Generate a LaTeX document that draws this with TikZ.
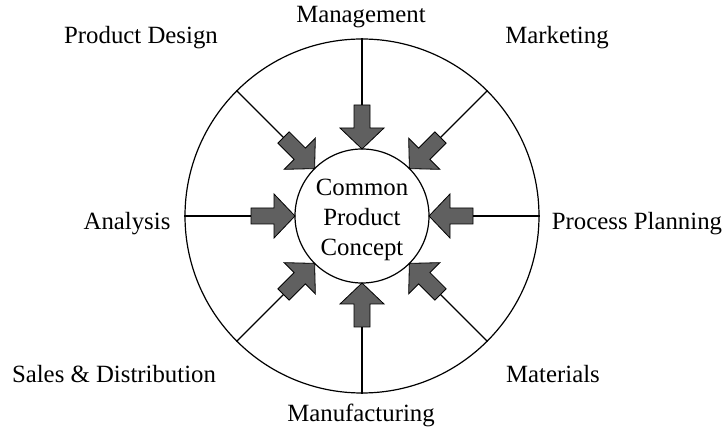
\documentclass[tikz,border=0pt]{standalone}
\usepackage{fontspec}
\setmainfont{Liberation Serif}
\begin{document}
\begin{tikzpicture}[x=0.5pt,y=0.5pt,
  lbl/.style={font=\fontsize{12.4}{15}\selectfont, inner sep=0pt},
  bigarrow/.style={draw=black, line width=0.4pt, fill=arrowgray, line join=miter},
  spoke/.style={line width=0.6pt}]
\definecolor{arrowgray}{RGB}{96,96,96}
\useasboundingbox (0,0) rectangle (722,433);
\coordinate (c) at (362,217);
\node[circle, draw, line width=0.6pt, minimum size=177pt, inner sep=0pt] (rim) at (c) {};
\node[circle, draw, line width=0.6pt, minimum size=67pt, inner sep=0pt] (core) at (c) {};
\node[lbl, align=center] (coretext) at (362,213) {Common\\Product\\Concept};
\foreach \a/\n in {90/mgmt,45/mkt,0/proc,-45/mat,-90/manu,-135/sales,180/ana,135/des}{
  \begin{scope}[shift={(c)}, rotate=\a]
    \coordinate (t\n) at (111,0);
    \filldraw[bigarrow] (111,-8) -- (88,-8) -- (88,-22) -- (67,0) -- (88,22) -- (88,8) -- (111,8) -- cycle;
  \end{scope}
  \draw[spoke] (rim.\a) -- (t\n);
}
\node[lbl, anchor=base] (lmgmt) at (361,410) {Management};
\node[lbl, anchor=base] (ldes) at (141,389) {Product Design};
\node[lbl, anchor=base] (lmkt) at (557,389) {Marketing};
\node[lbl, anchor=base] (lana) at (127,203) {Analysis};
\node[lbl, anchor=base] (lproc) at (637,203) {Process Planning};
\node[lbl, anchor=base] (lsales) at (114,50) {Sales \& Distribution};
\node[lbl, anchor=base] (lmat) at (553,50) {Materials};
\node[lbl, anchor=base] (lmanu) at (361,11) {Manufacturing};
\end{tikzpicture}
\end{document}
